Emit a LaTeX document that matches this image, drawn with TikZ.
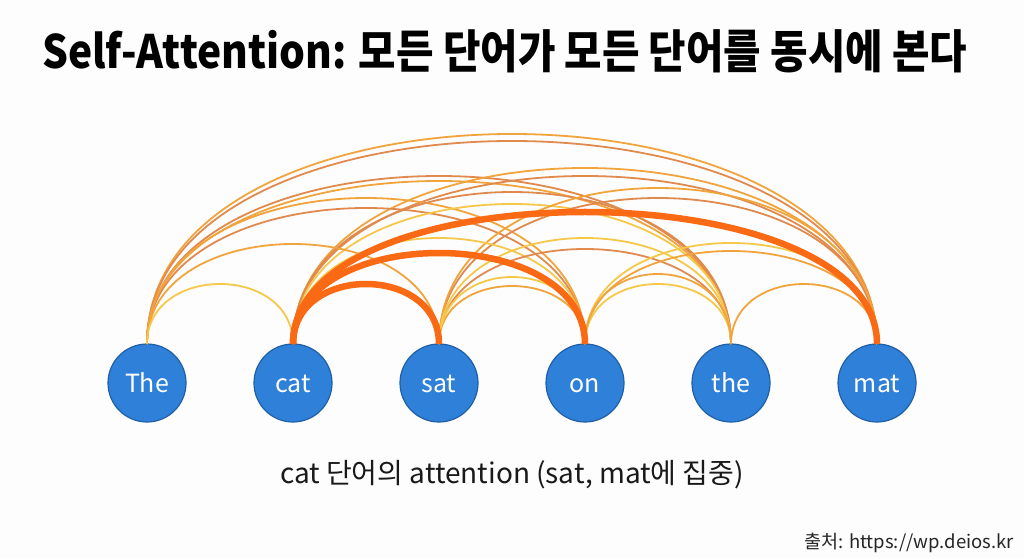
\documentclass[tikz,border=0pt]{standalone}
\usepackage{fontspec}
\usepackage{graphicx}
\setmainfont{Noto Sans CJK KR}
\usetikzlibrary{calc}
\definecolor{bgc}{HTML}{FDFDFD}
\definecolor{cY}{HTML}{F6C84A}
\definecolor{cO}{HTML}{F2A43C}
\definecolor{cB}{HTML}{E08A4E}
\definecolor{cT}{HTML}{FA6A14}
\definecolor{nodefill}{HTML}{2F80D8}
\definecolor{nodeline}{HTML}{1F5FA6}
\newcommand{\attarc}[4]{\draw[#4] (#1.north) .. controls ($(#1.north)+(0,#3/0.75)$) and ($(#2.north)+(0,#3/0.75)$) .. (#2.north);}
\begin{document}
\begin{tikzpicture}[x=1pt,y=1pt,
  word/.style={circle,fill=nodefill,draw=nodeline,line width=1.2pt,minimum size=78pt,inner sep=0pt,outer sep=0pt,text=white,text height=18pt,text depth=0pt,font=\fontsize{25}{28}\selectfont},
  thinY/.style={cY,line width=1.8pt},
  thinO/.style={cO,line width=1.8pt},
  thinB/.style={cB,line width=1.8pt},
  thick/.style={cT,line width=6.5pt},
  titletext/.style={font=\bfseries\fontsize{46}{50}\selectfont,text=black,inner sep=0pt,anchor=west},
  subtext/.style={font=\fontsize{28}{32}\selectfont,text=black!90,inner sep=0pt},
  srctext/.style={font=\fontsize{18.5}{20}\selectfont,text=black!85,inner sep=0pt,anchor=east}]
\fill[bgc] (0,0) rectangle (1024,558);
\useasboundingbox (0,0) rectangle (1024,558);
\node[titletext] (title) at (42,507) {\resizebox{925pt}{\height}{Self-Attention: 모든 단어가 모든 단어를 동시에 본다}};
\node[word] (nThe) at (147,175) {The};
\node[word] (ncat) at (293,175) {cat};
\node[word] (nsat) at (439,175) {sat};
\node[word] (non)  at (585,175) {on};
\node[word] (nthe) at (731,175) {the};
\node[word] (nmat) at (877,175) {mat};
% span 5
\attarc{nThe}{nmat}{210}{thinO}
\attarc{nThe}{nmat}{203}{thinB}
% span 4
\attarc{nThe}{nthe}{163}{thinO}
\attarc{nThe}{nthe}{168}{thinB}
\attarc{ncat}{nmat}{168}{thinB}
\attarc{ncat}{nmat}{176}{thinO}
% span 3
\attarc{nThe}{non}{136}{thinB}
\attarc{nThe}{non}{146}{thinO}
\attarc{ncat}{nthe}{140}{thinY}
\attarc{ncat}{nthe}{152}{thinB}
\attarc{nsat}{nmat}{146}{thinB}
\attarc{nsat}{nmat}{156}{thinO}
% span 2
\attarc{nThe}{nsat}{100}{thinO}
\attarc{ncat}{non}{106}{thinY}
\attarc{nsat}{nthe}{95}{thinB}
\attarc{nsat}{nthe}{106}{thinY}
\attarc{non}{nmat}{93}{thinO}
\attarc{non}{nmat}{101}{thinY}
% span 1
\attarc{nThe}{ncat}{60}{thinY}
\attarc{nsat}{non}{58}{thinO}
\attarc{nsat}{non}{67}{thinY}
\attarc{non}{nthe}{60}{thinY}
\attarc{non}{nthe}{70}{thinO}
\attarc{nthe}{nmat}{60}{thinO}
% thick (cat focus)
\attarc{ncat}{nsat}{60}{thick}
\attarc{ncat}{non}{91}{thick}
\attarc{ncat}{nmat}{132}{thick}
\node[subtext] (sub) at (512,83) {cat 단어의 attention (sat, mat에 집중)};
\node[srctext] (src) at (1014,15) {출처: https://wp.deios.kr};
\end{tikzpicture}
\end{document}
